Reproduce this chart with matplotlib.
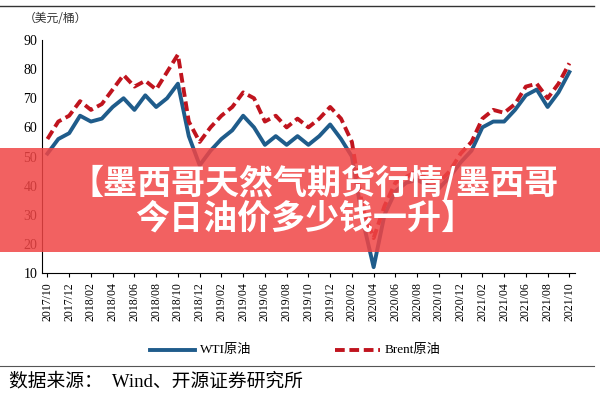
import matplotlib.pyplot as plt
import numpy as np
from matplotlib.patches import Rectangle
from matplotlib.lines import Line2D

plt.rcParams['font.family'] = ['Liberation Serif', 'Noto Sans CJK SC']

months = ['2017/10', '2017/11', '2017/12',
          '2018/01', '2018/02', '2018/03', '2018/04', '2018/05', '2018/06',
          '2018/07', '2018/08', '2018/09', '2018/10', '2018/11', '2018/12',
          '2019/01', '2019/02', '2019/03', '2019/04', '2019/05', '2019/06',
          '2019/07', '2019/08', '2019/09', '2019/10', '2019/11', '2019/12',
          '2020/01', '2020/02', '2020/03', '2020/04', '2020/05', '2020/06',
          '2020/07', '2020/08', '2020/09', '2020/10', '2020/11', '2020/12',
          '2021/01', '2021/02', '2021/03', '2021/04', '2021/05', '2021/06',
          '2021/07', '2021/08', '2021/09', '2021/10']
wti = [51, 56, 58, 64, 62, 63, 67, 70, 66, 71, 67, 70, 75, 57, 47,
       52, 56, 59, 64, 60, 54, 57, 54, 57, 54, 57, 61,
       56, 50, 28, 12, 30, 38, 41, 42, 40, 39, 43, 48,
       52, 60, 62, 62, 66, 71, 73, 67, 72, 79]
brent = [56, 62, 64, 69, 66, 68, 73, 78, 74, 76, 73, 79, 85, 62, 55,
         60, 64, 67, 72, 70, 62, 64, 60, 63, 60, 63, 67,
         63, 55, 32, 22, 33, 41, 43, 45, 42, 41, 45, 51,
         55, 63, 66, 65, 68, 74, 75, 70, 75, 82]

fig = plt.figure(figsize=(6, 4), dpi=100)
ax = fig.add_axes([0.07, 0.3175, 0.888, 0.5825])
x = np.arange(len(months))
ax.plot(x, wti, color='#1f5c8b', lw=2.8)
ax.plot(x, brent, color='#c0141e', lw=2.8, dashes=(2.5, 1.2))
ax.set_ylim(10, 90)
ax.set_xlim(-0.5, len(months) - 0.5)
ax.set_yticks(range(10, 91, 10))
ax.set_xticks(x[::2])
ax.set_xticklabels(months[::2], rotation=90, fontsize=8.5)
ax.tick_params(axis='y', labelsize=10, direction='in', length=0)
ax.tick_params(axis='x', direction='out', length=3)
for s in ['top', 'right']:
    ax.spines[s].set_visible(False)

fig.add_artist(Line2D([0.0, 0.99], [0.985, 0.985], color='#333333', lw=1))
fig.text(0.04, 0.945, '（美元/桶）', fontsize=8.5, family=['Noto Sans CJK SC'], color='#333333')

# legend
fig.add_artist(Line2D([0.25, 0.325], [0.125, 0.125], color='#1f5c8b', lw=2.8))
fig.text(0.333, 0.125, 'WTI原油', fontsize=9.5, va='center')
fig.add_artist(Line2D([0.558, 0.633], [0.125, 0.125], color='#c0141e', lw=2.8, dashes=(2.5, 1.2)))
fig.text(0.641, 0.125, 'Brent原油', fontsize=9.5, va='center')
fig.add_artist(Line2D([0.0, 0.99], [0.085, 0.085], color='#555555', lw=0.8))
fig.text(0.015, 0.045, '数据来源：  Wind、开源证券研究所', fontsize=13.5, va='center')

# banner
fig.add_artist(Rectangle((0, 0.37), 1, 0.26, transform=fig.transFigure,
                         facecolor='#f04545', alpha=0.85, edgecolor='none'))
fig.text(0.115, 0.543, '【墨西哥天然气期货行情/墨西哥', fontsize=24.5, color='white',
         fontweight='bold', ha='left', va='center', family=['Noto Sans CJK SC'])
fig.text(0.225, 0.455, '今日油价多少钱一升】', fontsize=24.5, color='white',
         fontweight='bold', ha='left', va='center', family=['Noto Sans CJK SC'])

fig.savefig('out.png', dpi=100)
